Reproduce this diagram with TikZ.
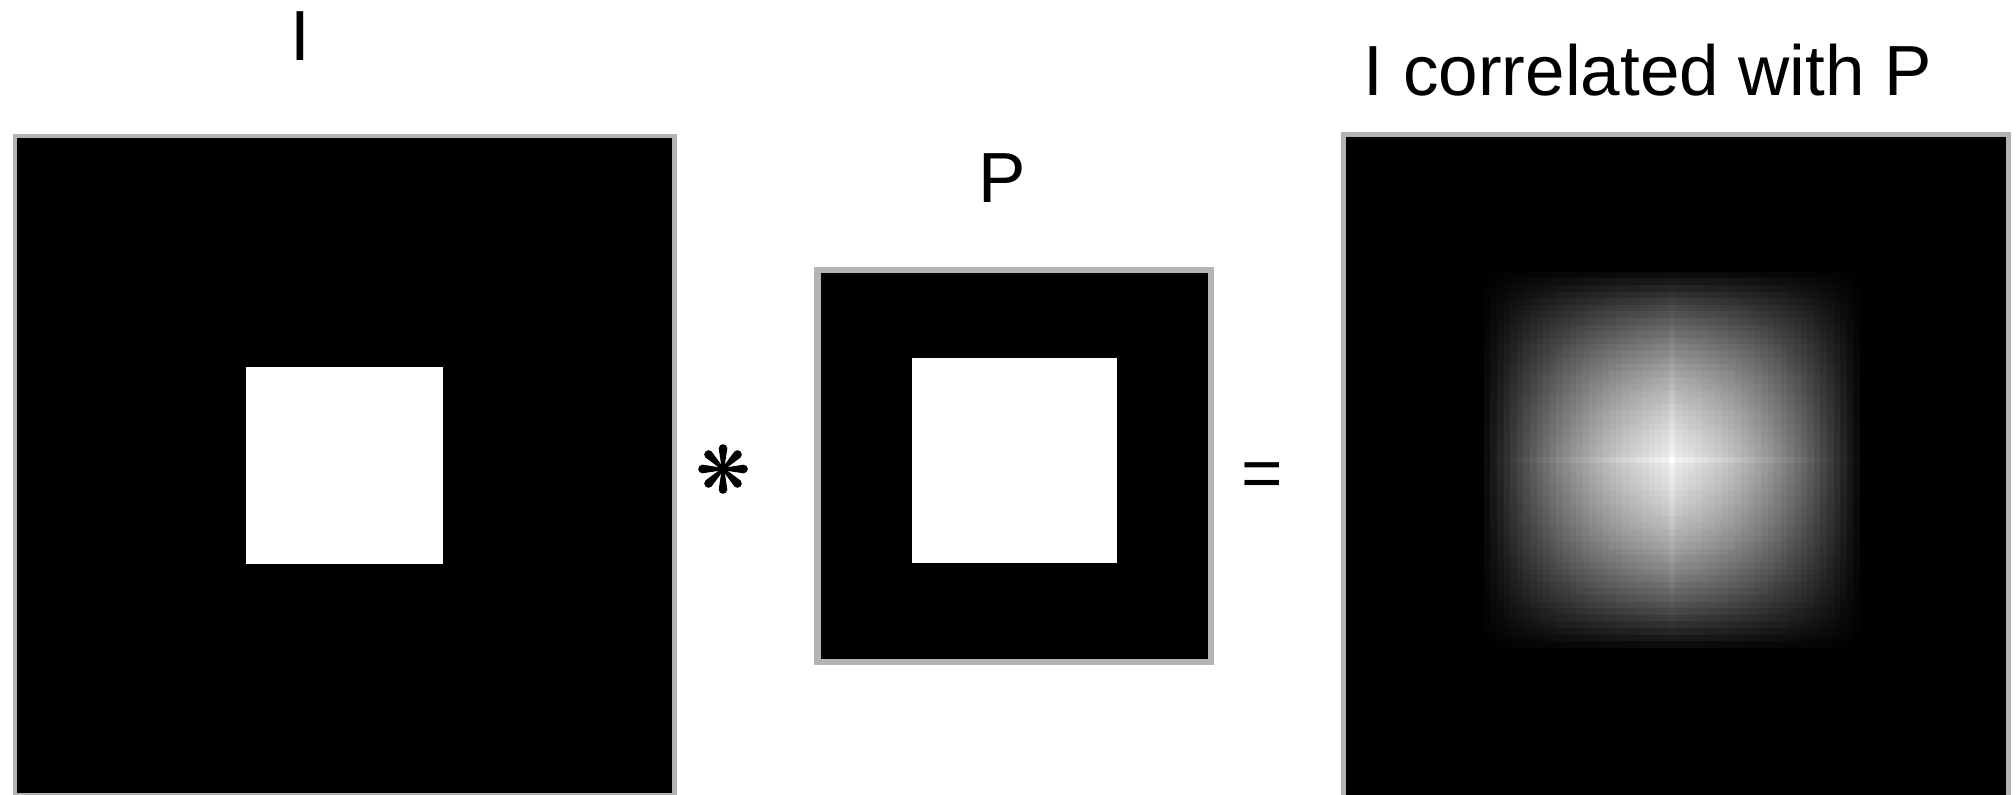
\documentclass[tikz,border=0pt]{standalone}
\usepackage{fontspec}
\setmainfont{Liberation Sans}
\usetikzlibrary{positioning,calc}

\definecolor{framegray}{RGB}{179,179,179}

\begin{document}
\begin{tikzpicture}[
  font=\fontsize{20.2}{24}\selectfont,
  img/.style={draw=framegray, fill=black, inner sep=0pt, outer sep=0pt},
  hole/.style={fill=white, inner sep=0pt, outer sep=0pt, minimum size=#1},
  lbl/.style={anchor=base, inner sep=0pt},
  op/.style={inner sep=0pt},
  spoke/.style={fill=black},
]
\useasboundingbox (0,0) rectangle (20.16,-7.94);

%% ---------- input image I ----------
\node[img, line width=1.3pt, minimum width=6.595cm, minimum height=6.595cm] (imgI) at (3.4475,-4.6575) {};
\node[hole=1.97cm] (holeI) at (imgI.center) {};
\node[lbl] (titleI) at (3.00,-0.61) {I};

%% ---------- pattern P ----------
\node[img, line width=1.85pt, minimum width=3.935cm, minimum height=3.92cm] (imgP) at (10.1425,-4.66) {};
\node[hole=2.05cm] (holeP) at (10.145,-4.604) {};
\node[lbl] (titleP) at (10.025,-2.02) {P};

%% ---------- operators ----------
\coordinate (ast) at (7.23,-4.69);
\foreach \a in {0,45,...,315}
  \fill[spoke, shift={(ast)}, rotate=\a]
    (-0.012,0) -- (-0.043,0.205) arc (180:0:0.043) -- (0.012,0) -- cycle;
\fill[spoke] (ast) circle (0.022);
\node[op] (eq) at (12.62,-4.805) {=};

%% ---------- result: I correlated with P ----------
\node[img, line width=1.42pt, minimum width=6.65cm, minimum height=6.65cm] (imgC) at (16.76,-4.67) {};
\begin{scope}[shift={(16.72,-4.60)}]
  \foreach \i in {-28,...,28} {
    \pgfmathsetmacro{\tx}{abs(\i)/29}
    \pgfmathsetmacro{\fx}{\i==0 ? 1 : 0.96*(1-\tx)*(1+0.6*\tx)}
    \foreach \j in {-28,...,28} {
      \pgfmathsetmacro{\ty}{abs(\j)/29}
      \pgfmathsetmacro{\fy}{\j==0 ? 1 : 0.96*(1-\ty)*(1+0.6*\ty)}
      \pgfmathsetmacro{\gv}{100*\fx*\fy}
      \fill[white!\gv!black] ({\i*0.066-0.035},{-\j*0.066-0.035}) rectangle ++(0.07,0.07);
    }
  }
\end{scope}
\node[lbl] (titleC) at (16.48,-0.96) {I correlated with P};

\end{tikzpicture}
\end{document}
